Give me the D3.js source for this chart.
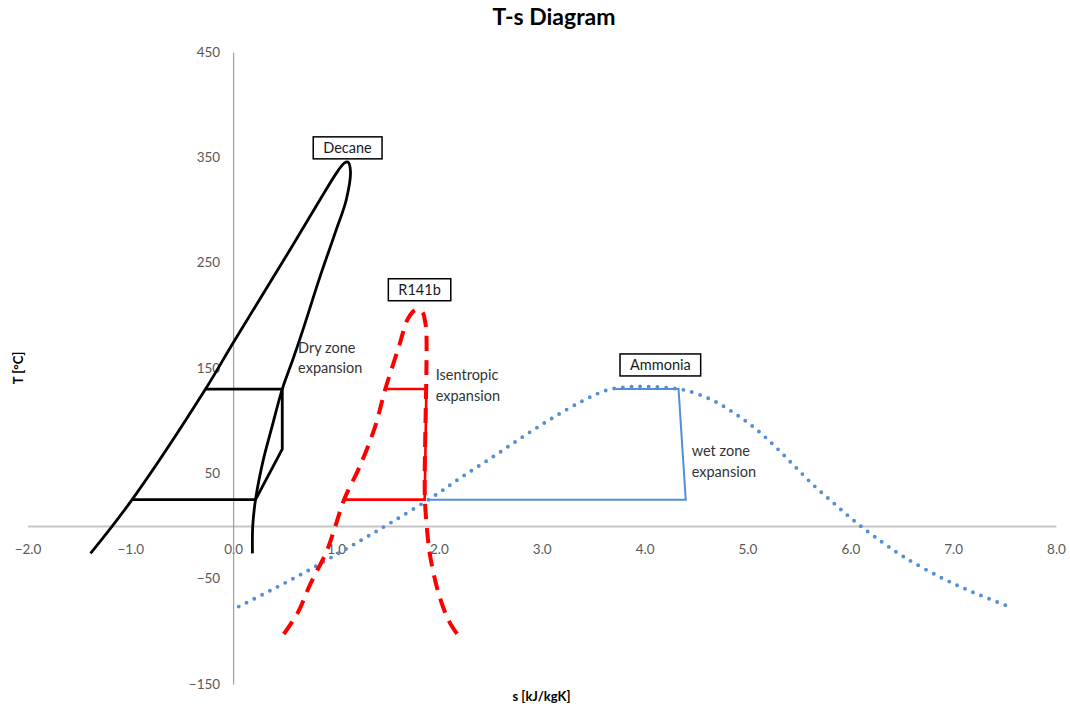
<!DOCTYPE html>
<meta charset="utf-8">
<title>T-s Diagram</title>
<body style="margin:0;background:#fff;"></body>
<script src="https://d3js.org/d3.v7.min.js"></script>
<div id="chart"></div>
<script>
  // saturation domes: [s kJ/kgK, T °C]
  const decaneDome = [
    [-1.387, -26], [-0.983, 25], [-0.269, 130], [0.0, 174], [0.576, 266],
    [0.845, 310], [1.01, 336], [1.08, 344.5], [1.115, 345.5], [1.14, 337],
    [1.10, 310], [0.994, 279], [0.845, 237], [0.677, 186], [0.58, 158],
    [0.477, 130], [0.377, 94], [0.293, 63], [0.217, 25], [0.19, 0], [0.187, -26]
  ];
  const r141bDome = [
    [0.492, -102.5], [0.622, -83.4], [0.751, -54.9], [0.913, -23], [0.994, 0],
    [1.078, 25], [1.228, 56], [1.379, 94], [1.479, 130], [1.612, 170.5],
    [1.70, 197], [1.779, 205.4], [1.84, 203], [1.866, 194], [1.878, 183.5],
    [1.878, 145], [1.87, 100], [1.862, 50], [1.864, 25], [1.885, -4],
    [1.917, -29.5], [1.998, -64.4], [2.095, -89.8], [2.177, -102.5]
  ];
  const ammoniaDome = [
    [0.054, -76.5], [0.363, -61.2], [0.67, -45.4], [0.978, -28.5], [1.27, -12],
    [1.561, 4.8], [1.94, 27.6], [2.225, 46.7], [2.517, 65.1], [2.808, 84.2],
    [3.1, 102.3], [3.398, 118.8], [3.64, 129.2], [3.85, 132], [4.0, 132.4],
    [4.2, 131.5], [4.405, 128.6], [4.655, 119.7], [4.875, 107], [5.086, 91.8],
    [5.277, 74.7], [5.458, 56.9], [5.642, 38.8], [5.837, 21.9], [6.031, 5.4],
    [6.242, -10.5], [6.524, -29.5], [6.906, -50.1], [7.23, -64.4], [7.544, -76.5]
  ];

  // cycles between 130 °C and 25 °C
  const decaneCycle = [[-0.269, 130], [0.477, 130], [0.477, 73], [0.217, 25], [-0.983, 25]];
  const r141bCycle = [[1.479, 130], [1.878, 130], [1.862, 25], [1.078, 25]];
  const ammoniaCycle = [[3.715, 130], [4.33, 130], [4.40, 25], [1.885, 25]];

  const sTicks = [-2, -1, 0, 1, 2, 3, 4, 5, 6, 7, 8];
  const tTicks = [-150, -50, 50, 150, 250, 350, 450];

  // boxed fluid names and free notes, anchored in data units
  const fluidLabels = [
    {text: "Decane", s: 1.111, T: 359},
    {text: "R141b", s: 1.812, T: 224.3},
    {text: "Ammonia", s: 4.153, T: 152.9}
  ];
  const notes = [
    {lines: ["Dry zone", "expansion"], s: 0.631, T: 169.3},
    {lines: ["Isentropic", "expansion"], s: 1.969, T: 143.4},
    {lines: ["wet zone", "expansion"], s: 4.458, T: 71.2}
  ];

  const width = 1070, height = 707;
  const font = "Lato, 'Open Sans', sans-serif";

  const svg = d3.select("#chart")
    .append("svg")
      .attr("width", width)
      .attr("height", height)
      .style("font-family", font);

  const x = d3.scaleLinear().domain([-2, 8]).range([27.5, 1056]);
  const y = d3.scaleLinear().domain([-150, 450]).range([684, 52]);

  // axes cross at the origin, no tick marks
  const xAxis = svg.append("g")
    .attr("transform", `translate(0,${y(0)})`)
    .call(d3.axisBottom(x).tickValues(sTicks).tickSize(0).tickPadding(18)
      .tickFormat(d3.format(".1f")));
  xAxis.select(".domain").attr("stroke", "#c6c6c6").attr("stroke-width", 2);

  const yAxis = svg.append("g")
    .attr("transform", `translate(${x(0)},0)`)
    .call(d3.axisLeft(y).tickValues(tTicks).tickSize(0).tickPadding(13));
  yAxis.select(".domain").attr("stroke", "#8c8c8c").attr("stroke-width", 1);

  svg.selectAll(".tick text")
    .attr("fill", "#595959")
    .style("font-size", "13.5px")
    .style("font-family", font);

  const smooth = d3.line().x(d => x(d[0])).y(d => y(d[1])).curve(d3.curveCatmullRom.alpha(0.5));
  const straight = d3.line().x(d => x(d[0])).y(d => y(d[1]));

  // decane: black solid
  svg.append("path").attr("d", smooth(decaneDome))
    .attr("fill", "none").attr("stroke", "#000").attr("stroke-width", 2.8);
  svg.append("path").attr("d", straight(decaneCycle))
    .attr("fill", "none").attr("stroke", "#000").attr("stroke-width", 2.8);

  // ammonia: blue dotted dome, thin solid cycle
  svg.append("path").attr("d", smooth(ammoniaDome))
    .attr("fill", "none").attr("stroke", "#558ed5").attr("stroke-width", 3.9)
    .attr("stroke-linecap", "round").attr("stroke-dasharray", "0,8.7");
  svg.append("path").attr("d", straight(ammoniaCycle))
    .attr("fill", "none").attr("stroke", "#558ed5").attr("stroke-width", 2);

  // R141b: red dashed dome, solid cycle
  svg.append("path").attr("d", smooth(r141bDome))
    .attr("fill", "none").attr("stroke", "#ff0000").attr("stroke-width", 4)
    .attr("stroke-dasharray", "15,9");
  svg.append("path").attr("d", straight(r141bCycle))
    .attr("fill", "none").attr("stroke", "#ff0000").attr("stroke-width", 2.6);

  // boxed labels
  fluidLabels.forEach(l => {
    const g = svg.append("g");
    const t = g.append("text")
      .attr("x", x(l.s)).attr("y", y(l.T))
      .attr("text-anchor", "middle").attr("dy", "0.35em")
      .attr("fill", "#1a1a1a").style("font-size", "14.5px")
      .text(l.text);
    const b = t.node().getBBox();
    g.insert("rect", "text")
      .attr("x", b.x - 10).attr("y", y(l.T) - 11)
      .attr("width", b.width + 20).attr("height", 22)
      .attr("fill", "#fff").attr("stroke", "#000").attr("stroke-width", 1.5);
  });

  notes.forEach(n => {
    svg.append("text")
      .attr("x", x(n.s)).attr("y", y(n.T))
      .attr("fill", "#333").style("font-size", "14.5px")
      .selectAll("tspan").data(n.lines).join("tspan")
        .attr("x", x(n.s))
        .attr("dy", (d, i) => i === 0 ? "0.35em" : "1.42em")
        .text(d => d);
  });

  // titles
  svg.append("text")
    .attr("x", 554).attr("y", 25)
    .attr("text-anchor", "middle")
    .style("font-size", "23px").style("font-weight", "bold")
    .text("T-s Diagram");

  svg.append("text")
    .attr("x", 541.5).attr("y", 701)
    .attr("text-anchor", "middle")
    .style("font-size", "13px").style("font-weight", "bold")
    .text("s [kJ/kgK]");

  svg.append("text")
    .attr("transform", `translate(23,368) rotate(-90)`)
    .attr("text-anchor", "middle")
    .style("font-size", "13px").style("font-weight", "bold")
    .text("T [°C]");
</script>
